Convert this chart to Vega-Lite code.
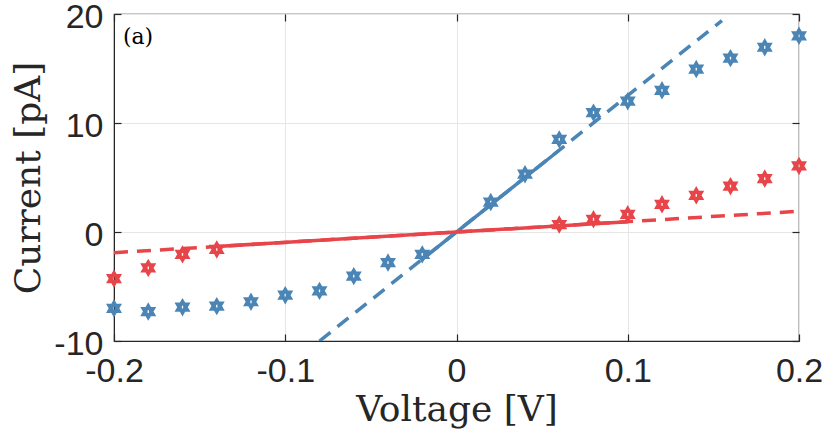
{
  "$schema": "https://vega.github.io/schema/vega-lite/v6.json",
  "width": 685,
  "height": 327,
  "autosize": "none",
  "padding": {"left": 114, "top": 14, "right": 31, "bottom": 105},
  "background": "white",
  "config": {
    "view": {"stroke": "#262626", "strokeWidth": 1.2},
    "axis": {
      "domainColor": "#262626",
      "tickColor": "#262626",
      "tickWidth": 1.2,
      "gridColor": "#e6e6e6",
      "gridWidth": 1,
      "labelFont": "'Liberation Sans'",
      "labelFontSize": 34,
      "labelColor": "#262626",
      "titleFont": "DejaVu Serif",
      "titleFontSize": 36,
      "titleFontWeight": "normal",
      "titleColor": "#262626"
    }
  },
  "datasets": {
    "fits": [
      {"series": "A", "part": "extrapolated", "V": -0.08, "I": -10},
      {"series": "A", "part": "extrapolated", "V": 0.155, "I": 19.4},
      {"series": "A", "part": "fitted", "V": -0.02, "I": -2.5},
      {"series": "A", "part": "fitted", "V": 0.06, "I": 7.5},
      {"series": "B", "part": "extrapolated", "V": -0.2, "I": -1.9},
      {"series": "B", "part": "extrapolated", "V": 0.2, "I": 1.9},
      {"series": "B", "part": "fitted", "V": -0.14, "I": -1.33},
      {"series": "B", "part": "fitted", "V": 0.1, "I": 0.95}
    ],
    "measured": [
      {"series": "A", "V": -0.2, "I": -7.0},
      {"series": "A", "V": -0.18, "I": -7.3},
      {"series": "A", "V": -0.16, "I": -6.9},
      {"series": "A", "V": -0.14, "I": -6.8},
      {"series": "A", "V": -0.12, "I": -6.4},
      {"series": "A", "V": -0.1, "I": -5.8},
      {"series": "A", "V": -0.08, "I": -5.4},
      {"series": "A", "V": -0.06, "I": -4.05},
      {"series": "A", "V": -0.04, "I": -2.8},
      {"series": "A", "V": -0.02, "I": -2.05},
      {"series": "A", "V": 0.02, "I": 2.75},
      {"series": "A", "V": 0.04, "I": 5.3},
      {"series": "A", "V": 0.06, "I": 8.5},
      {"series": "A", "V": 0.08, "I": 10.95},
      {"series": "A", "V": 0.1, "I": 12.0},
      {"series": "A", "V": 0.12, "I": 13.0},
      {"series": "A", "V": 0.14, "I": 14.95},
      {"series": "A", "V": 0.16, "I": 15.95},
      {"series": "A", "V": 0.18, "I": 16.95},
      {"series": "A", "V": 0.2, "I": 18.0},
      {"series": "B", "V": -0.2, "I": -4.28},
      {"series": "B", "V": -0.18, "I": -3.3},
      {"series": "B", "V": -0.16, "I": -2.05},
      {"series": "B", "V": -0.14, "I": -1.6},
      {"series": "B", "V": 0.06, "I": 0.68},
      {"series": "B", "V": 0.08, "I": 1.17},
      {"series": "B", "V": 0.1, "I": 1.62},
      {"series": "B", "V": 0.12, "I": 2.54},
      {"series": "B", "V": 0.14, "I": 3.37},
      {"series": "B", "V": 0.16, "I": 4.2},
      {"series": "B", "V": 0.18, "I": 4.9},
      {"series": "B", "V": 0.2, "I": 6.06}
    ],
    "panel": [
      {"label": "(a)", "V": -0.1948, "I": 17.9}
    ]
  },
  "resolve": {"axis": {"x": "independent", "y": "independent"}},
  "encoding": {
    "color": {
      "field": "series",
      "type": "nominal",
      "scale": {"domain": ["A", "B"], "range": ["#4a85b5", "#e8454a"]},
      "legend": null
    }
  },
  "layer": [
    {
      "data": {"name": "fits"},
      "transform": [{"filter": "datum.part == 'extrapolated'"}],
      "mark": {"type": "line", "strokeWidth": 3.5, "strokeDash": [14, 9], "clip": true},
      "encoding": {
        "x": {
          "field": "V",
          "type": "quantitative",
          "scale": {"domain": [-0.2, 0.2], "nice": false},
          "axis": {
            "title": "Voltage [V]",
            "values": [-0.2, -0.1, 0, 0.1, 0.2],
            "labelExpr": "datum.value < 0 ? '-' + format(-datum.value, '~g') : format(datum.value, '~g')",
            "tickSize": -7,
            "labelPadding": 20,
            "titlePadding": 4,
            "labelFlush": false
          }
        },
        "y": {
          "field": "I",
          "type": "quantitative",
          "scale": {"domain": [-10, 20], "nice": false},
          "axis": {
            "title": "Current [pA]",
            "values": [-10, 0, 10, 20],
            "labelExpr": "datum.value < 0 ? '-' + format(-datum.value, '~g') : format(datum.value, '~g')",
            "labelBaseline": "alphabetic",
            "labelOffset": 13,
            "tickSize": -7,
            "labelPadding": 18,
            "titlePadding": 6,
            "labelFlush": false
          }
        },
        "detail": {"field": "series"}
      }
    },
    {
      "data": {"name": "fits"},
      "transform": [{"filter": "datum.part == 'fitted'"}],
      "mark": {"type": "line", "strokeWidth": 3.5, "clip": true},
      "encoding": {
        "x": {"field": "V", "type": "quantitative", "axis": null},
        "y": {"field": "I", "type": "quantitative", "axis": null},
        "detail": {"field": "series"}
      }
    },
    {
      "data": {"name": "measured"},
      "mark": {
        "type": "point",
        "filled": true,
        "opacity": 1,
        "size": 340,
        "shape": "M0,-1L0.289,-0.5L0.866,-0.5L0.577,0L0.866,0.5L0.289,0.5L0,1L-0.289,0.5L-0.866,0.5L-0.577,0L-0.866,-0.5L-0.289,-0.5ZM-0.07,-0.15L-0.07,0.15L0.07,0.15L0.07,-0.15Z"
      },
      "encoding": {
        "x": {"field": "V", "type": "quantitative", "axis": null},
        "y": {"field": "I", "type": "quantitative", "axis": null}
      }
    },
    {
      "data": {"name": "panel"},
      "mark": {
        "type": "text",
        "align": "left",
        "baseline": "middle",
        "font": "DejaVu Serif",
        "fontSize": 22
      },
      "encoding": {
        "x": {
          "field": "V",
          "type": "quantitative",
          "axis": {
            "orient": "top",
            "values": [-0.2, -0.1, 0, 0.1, 0.2],
            "labels": false,
            "title": null,
            "grid": false,
            "domain": false,
            "tickSize": -7
          }
        },
        "y": {
          "field": "I",
          "type": "quantitative",
          "axis": {
            "orient": "right",
            "values": [-10, 0, 10, 20],
            "labels": false,
            "title": null,
            "grid": false,
            "domain": false,
            "tickSize": -7
          }
        },
        "text": {"field": "label"},
        "color": {"value": "#000000"}
      }
    }
  ]
}
